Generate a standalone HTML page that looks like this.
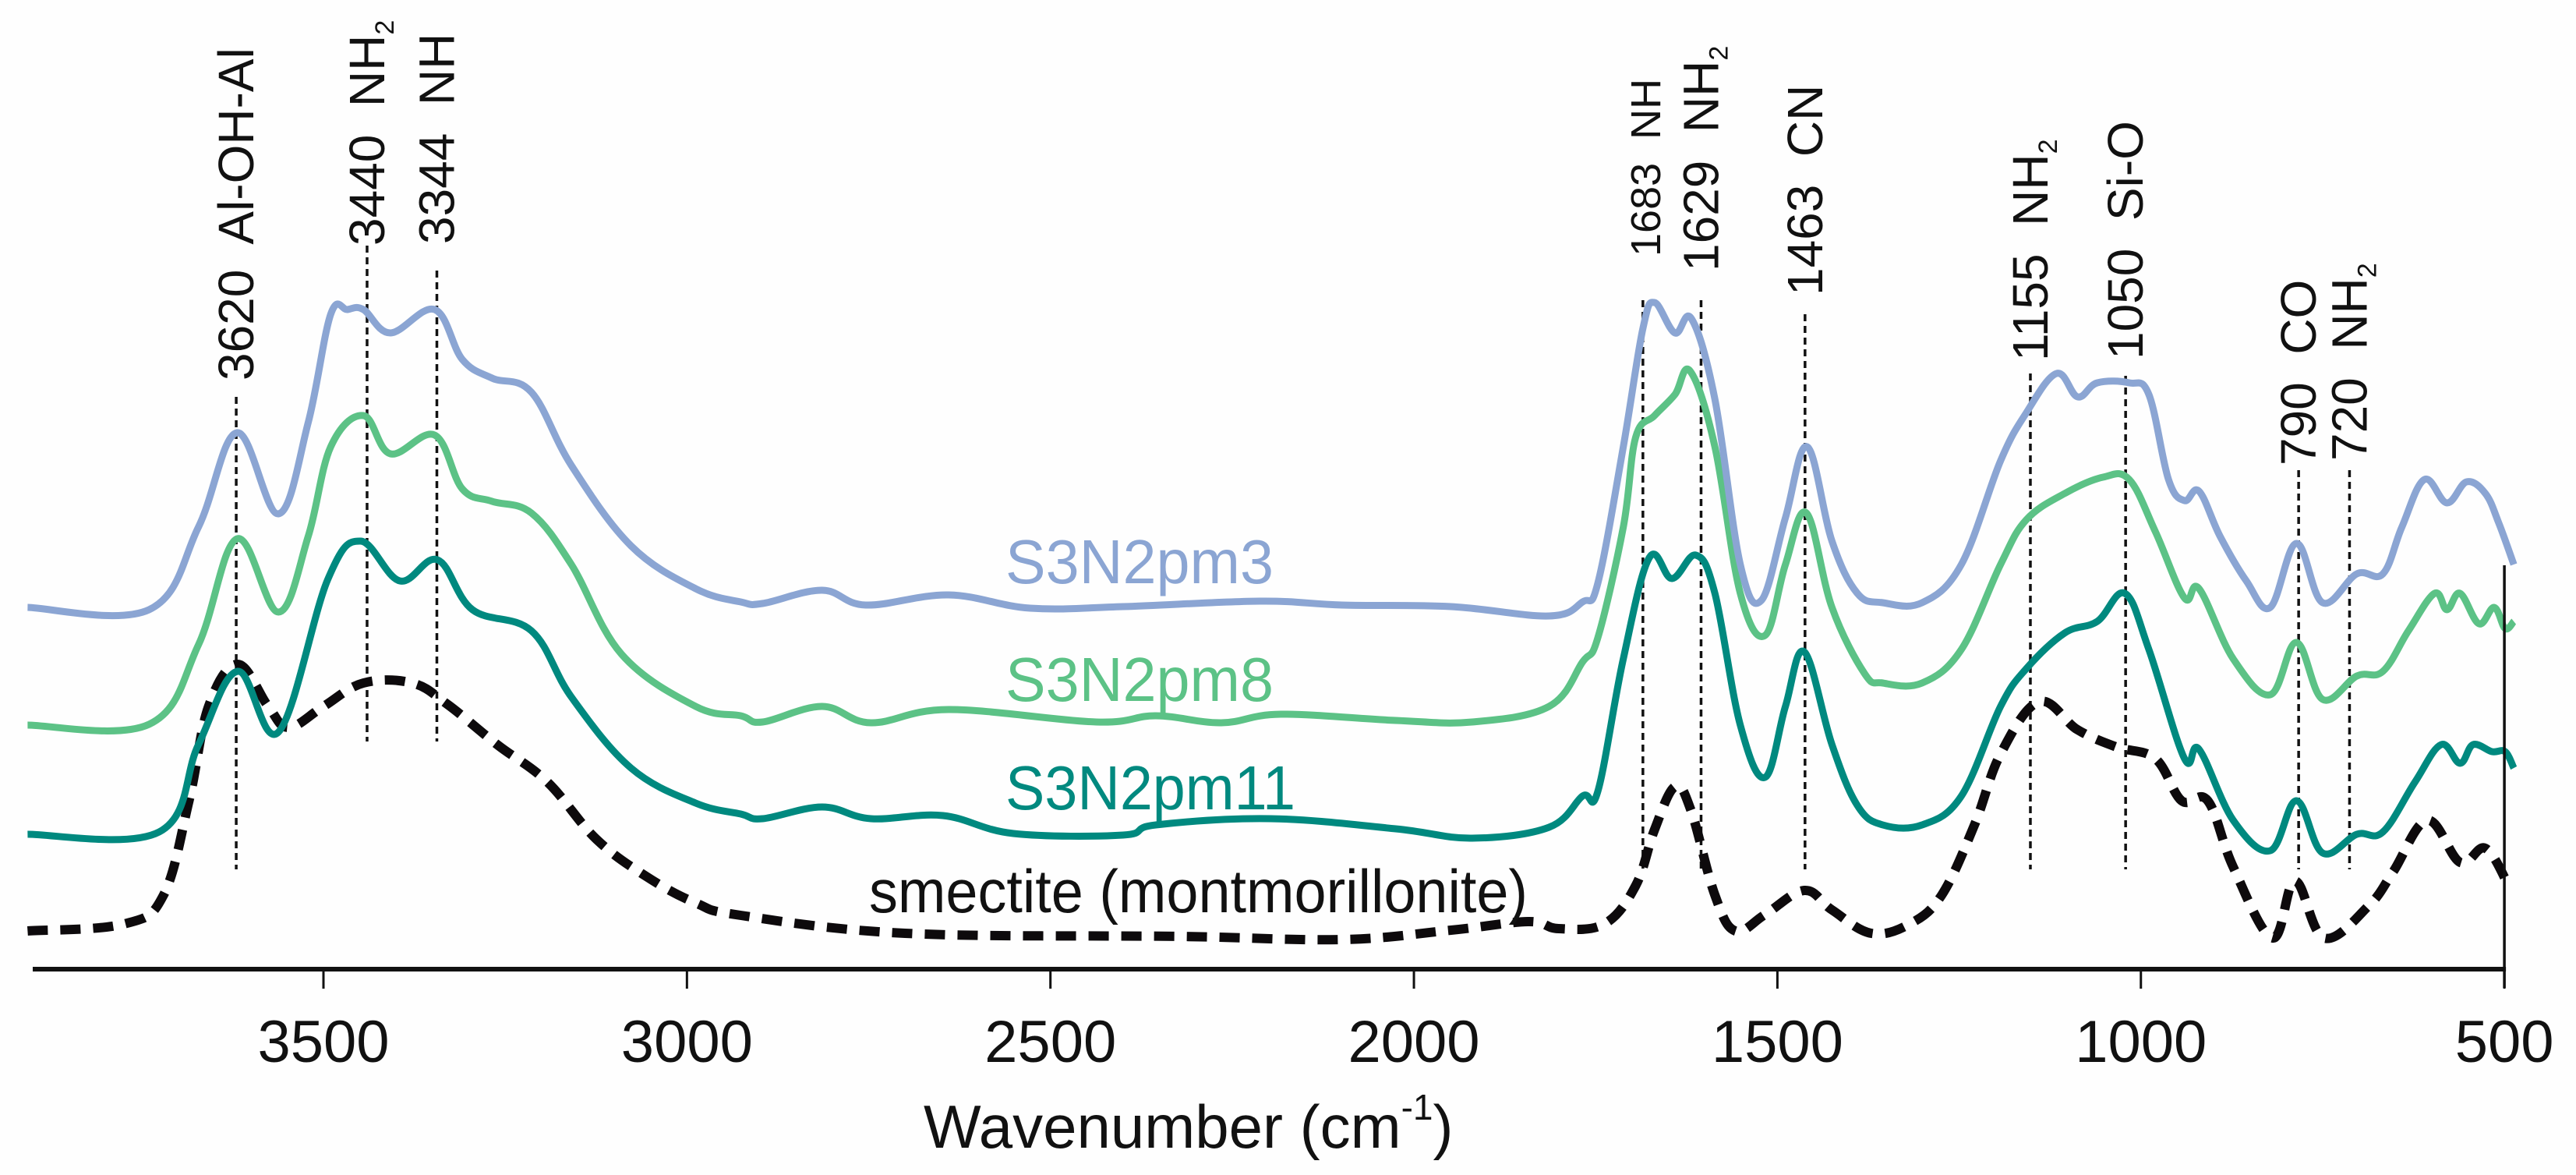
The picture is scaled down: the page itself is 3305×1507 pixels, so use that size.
<!DOCTYPE html>
<html>
<head>
<meta charset="utf-8">
<style>
html,body{margin:0;padding:0;background:#fff;}
svg{display:block;}
text{font-family:"Liberation Sans",Arial,sans-serif;}
</style>
</head>
<body>
<svg id="chart" width="3305" height="1507" viewBox="0 0 3305 1507" xmlns="http://www.w3.org/2000/svg">
  <rect x="0" y="0" width="3305" height="1507" fill="#fefefe"/>
  <g id="markers"></g>
  <g id="series"></g>
  <g id="axis"></g>
  <text x="1185" y="1472" font-size="78" fill="#111">Wavenumber (cm<tspan font-size="46" dy="-36">-1</tspan><tspan dy="36">)</tspan></text>
  <text x="1290" y="748" font-size="80" fill="#8ba5d3" textLength="344" lengthAdjust="spacingAndGlyphs">S3N2pm3</text>
  <text x="1290" y="899" font-size="80" fill="#5cc286" textLength="344" lengthAdjust="spacingAndGlyphs">S3N2pm8</text>
  <text x="1290" y="1038" font-size="80" fill="#00897f" textLength="372" lengthAdjust="spacingAndGlyphs">S3N2pm11</text>
  <text x="1115" y="1170" font-size="78" fill="#111" textLength="845" lengthAdjust="spacingAndGlyphs">smectite (montmorillonite)</text>
</svg>
<script>
// ---- data ----
const tickLabels = [3500, 3000, 2500, 2000, 1500, 1000, 500];

const pm3Wave = [3907,3740,3672,3619,3562,3521,3490,3467,3445,3408,3347,3309,3268,3214,3159,3077,2988,2926,2896,2814,2754,2640,2528,2400,2212,2099,1949,1814,1768,1747,1712,1685,1669,1641,1618,1586,1551,1522,1489,1459,1425,1390,1355,1301,1247,1193,1158,1116,1087,1060,1016,989,962,940,920,891,855,822,786,750,703,667,641,610,579,552,526,508,487];
const pm3Vals = [46.4,46.1,56.7,68.8,58.4,70.1,84,84.6,84.6,81.6,84.6,78.2,75.8,74,64.6,54.3,48.8,47.1,46.9,48.6,46.7,48,46.3,46.5,47.2,46.7,46.5,45.3,47.1,49.5,67,82.2,85.5,81.6,83.4,73.1,51.9,47.3,57.9,67,54.9,48.2,47,47,51.9,65.2,71.3,76.4,73.4,75.2,75.2,73.7,62.8,60.1,61.3,55.5,49.8,46.4,54.6,47,50.7,50.7,56.7,62.8,59.8,62.5,61,57.3,51.9];

const pm8Wave = [3907,3740,3672,3619,3562,3521,3490,3445,3408,3347,3309,3268,3214,3159,3090,2988,2926,2896,2814,2747,2640,2437,2355,2265,2183,2025,1920,1814,1768,1747,1712,1695,1669,1641,1620,1586,1551,1517,1489,1460,1425,1380,1355,1301,1247,1193,1158,1105,1052,1016,980,940,920,873,822,786,750,703,667,632,596,579,561,535,514,499,487];
const pm8Vals = [31.3,31.4,41.6,55.2,45.8,55.5,67,71,66.1,68.5,61.6,60,58.5,51.9,40.4,33.7,32.5,31.7,33.7,31.6,33.3,31.7,32.5,31.6,32.7,31.9,31.7,33.7,39.4,42.5,56.7,68.2,71,73.7,76.7,67,48.2,42.8,51.9,58.5,46.4,37.9,36.7,36.7,41,51.9,57.6,61,63.1,62.8,56.1,47.6,48.8,39.8,35.2,41.9,34.6,37.6,38.2,43.4,48.2,46.1,48.2,44.3,46.4,43.7,44.6];

const pm11Wave = [3907,3726,3672,3618,3562,3494,3449,3395,3343,3295,3214,3159,3077,2988,2926,2896,2814,2747,2648,2551,2400,2355,2197,2025,1920,1814,1768,1747,1712,1676,1645,1612,1586,1551,1517,1489,1463,1425,1390,1355,1301,1247,1193,1158,1105,1060,1022,989,940,920,873,822,786,750,703,667,623,587,561,543,517,499,487];
const pm11Vals = [17.3,17.6,28.8,38.2,30.4,50,54.9,49.8,52.5,46.1,43.4,34.9,25.8,21.3,19.9,19.3,20.8,19.3,19.7,17.4,17.2,18.5,19.3,18,16.8,18.2,22.2,22.8,39.8,52.8,50.1,53.1,48.2,31.3,24.6,33.7,40.7,28.8,21,18.5,18.5,22.2,33.7,38.5,43.1,44.6,48.2,41,27,28.2,19.1,15.2,21.6,14.9,17.3,17.6,24,28.8,26.4,28.8,27.9,27.9,25.8];

const smecWave = [3907,3774,3720,3685,3658,3618,3576,3548,3500,3445,3378,3330,3261,3192,3125,3056,2988,2926,2700,2324,2099,1949,1843,1801,1738,1695,1669,1641,1619,1586,1558,1517,1463,1425,1371,1318,1274,1229,1193,1140,1087,1034,980,944,908,873,819,788,748,686,653,606,561,526,494];
const smecVals = [4.9,5.8,9.5,21.6,33.7,39.1,33.7,31,33.7,36.7,36.7,34,28.8,24,16.7,11.9,8.5,6.9,4.6,4.2,3.8,5,6.1,5.2,5.8,10.7,17.9,23.4,20.4,9.5,4.9,7,10.1,7.6,4.6,5.8,9.5,18.5,27.6,34.3,30.7,28.5,27,21.6,21.6,13.1,4,11.3,4,8.2,12.5,19.1,13.7,15.5,10.7];

// peak annotations (positions in wavenumber as drawn)
const markerWave = [3620,3440,3344,1685,1605,1462,1152,1021,783,713];
const markerNum  = ["3620","3440","3344","1683","1629","1463","1155","1050","790","720"];
const markerName = ["Al-OH-Al","NH","NH","NH","NH","CN","NH","Si-O","CO","NH"];
const markerSub  = ["","2","","","2","","2","","","2"];
const markerTopV = [73.4,92.8,89.6,85.8,85.8,84,76.4,76.1,64,64];
const markerBotV = [12.8,29.2,29.2,12.8,12.8,12.8,12.8,12.8,12.8,12.8];
const labelBottomV = [75.5,92.8,93,91.4,89.5,86.4,78,78.2,64.6,65.2];

// ---- scales ----
function xScale(w){ return 415 + (3500 - w) * 0.9327; }
function yScale(v){ return 1243 - v * 10; }
const NS = "http://www.w3.org/2000/svg";

function smoothPath(ws, vs){
  const pts = ws.map((w,i)=>[xScale(w), yScale(vs[i])]);
  let d = "M" + pts[0][0].toFixed(1) + "," + pts[0][1].toFixed(1);
  for(let i=0;i<pts.length-1;i++){
    const p0 = pts[Math.max(0,i-1)], p1 = pts[i], p2 = pts[i+1], p3 = pts[Math.min(pts.length-1,i+2)];
    const t = 0.18;
    const c1x = p1[0] + (p2[0]-p0[0])*t, c1y = p1[1] + (p2[1]-p0[1])*t;
    const c2x = p2[0] - (p3[0]-p1[0])*t, c2y = p2[1] - (p3[1]-p1[1])*t;
    d += " C" + c1x.toFixed(1)+","+c1y.toFixed(1)+" "+c2x.toFixed(1)+","+c2y.toFixed(1)+" "+p2[0].toFixed(1)+","+p2[1].toFixed(1);
  }
  return d;
}

// ---- markers ----
const mg = document.getElementById("markers");
markerWave.forEach((w,i)=>{
  const x = xScale(w);
  const ln = document.createElementNS(NS,"line");
  ln.setAttribute("x1",x); ln.setAttribute("x2",x);
  ln.setAttribute("y1",yScale(markerTopV[i])); ln.setAttribute("y2",yScale(markerBotV[i]));
  ln.setAttribute("stroke","#111"); ln.setAttribute("stroke-width","3.5"); ln.setAttribute("stroke-dasharray","9 6");
  
  
  mg.appendChild(ln);
  const tx = document.createElementNS(NS,"text");
  const bx = x + 22, by = yScale(labelBottomV[i]);
  tx.setAttribute("transform","translate("+bx+","+by+") rotate(-90)");
  tx.setAttribute("font-size", i===3 ? "60" : "64");
  tx.setAttribute("fill","#111");
  const num = document.createElementNS(NS,"tspan");
  num.textContent = markerNum[i] + "\u00a0 " + markerName[i];
  if(i===3){ num.setAttribute("font-size","54"); }
  tx.appendChild(num);
  if(markerSub[i]){
    const sb = document.createElementNS(NS,"tspan");
    sb.setAttribute("font-size","34"); sb.setAttribute("dy","12");
    sb.textContent = markerSub[i];
    tx.appendChild(sb);
  }
  
  
  mg.appendChild(tx);
});

// ---- series ----
const sg = document.getElementById("series");
const seriesDefs = [
  {w:smecWave, v:smecVals, c:"#0d0a0c", sw:12, dash:"26 16", n:"series-smectite"},
  {w:pm11Wave, v:pm11Vals, c:"#00897f", sw:9, dash:"", n:"series-s3n2pm11"},
  {w:pm8Wave,  v:pm8Vals,  c:"#5cc286", sw:9, dash:"", n:"series-s3n2pm8"},
  {w:pm3Wave,  v:pm3Vals,  c:"#8ba5d3", sw:9, dash:"", n:"series-s3n2pm3"}
];
seriesDefs.forEach(s=>{
  const p = document.createElementNS(NS,"path");
  p.setAttribute("d", smoothPath(s.w, s.v));
  p.setAttribute("fill","none");
  p.setAttribute("stroke", s.c);
  p.setAttribute("stroke-width", s.sw);
  p.setAttribute("stroke-linejoin","round");
  if(s.dash){ p.setAttribute("stroke-dasharray", s.dash); }
  
  
  sg.appendChild(p);
});

// ---- axis ----
const ag = document.getElementById("axis");
const base = document.createElementNS(NS,"line");
base.setAttribute("x1",42); base.setAttribute("x2",xScale(500)+2);
base.setAttribute("y1",1243); base.setAttribute("y2",1243);
base.setAttribute("stroke","#111"); base.setAttribute("stroke-width","6");


ag.appendChild(base);
const rb = document.createElementNS(NS,"line");
rb.setAttribute("x1",xScale(500)); rb.setAttribute("x2",xScale(500));
rb.setAttribute("y1",725); rb.setAttribute("y2",1267);
rb.setAttribute("stroke","#111"); rb.setAttribute("stroke-width","3.5");


ag.appendChild(rb);
tickLabels.forEach(t=>{
  const x = xScale(t);
  const tk = document.createElementNS(NS,"line");
  tk.setAttribute("x1",x); tk.setAttribute("x2",x);
  tk.setAttribute("y1",1243); tk.setAttribute("y2",1268);
  tk.setAttribute("stroke","#111"); tk.setAttribute("stroke-width","3");
  
  
  ag.appendChild(tk);
  const lb = document.createElementNS(NS,"text");
  lb.setAttribute("x",x); lb.setAttribute("y",1362);
  lb.setAttribute("text-anchor","middle");
  lb.setAttribute("font-size","76");
  lb.setAttribute("fill","#111");
  lb.textContent = t;
  
  
  ag.appendChild(lb);
});
</script>
</body>
</html>
